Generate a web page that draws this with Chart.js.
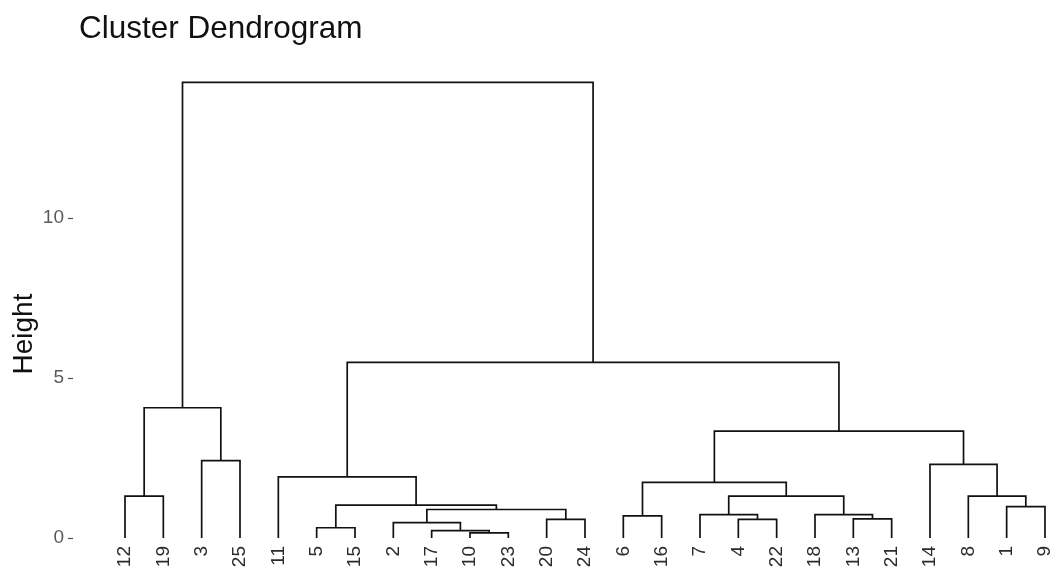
<!DOCTYPE html>
<html>
<head>
<meta charset="utf-8">
<style>
  html, body { margin: 0; padding: 0; background: #ffffff; }
  canvas { display: block; }
</style>
<script src="https://cdn.jsdelivr.net/npm/chart.js@4/dist/chart.umd.min.js"></script>
</head>
<body>
<canvas id="dend" width="1056" height="570"></canvas>
<script>
// Observation ids in left-to-right leaf order
const leafOrder = [12, 19, 3, 25, 11, 5, 15, 2, 17, 10, 23, 20, 24, 6, 16, 7, 4, 22, 18, 13, 21, 14, 8, 1, 9];

// Agglomeration steps (hclust convention): negative = single observation,
// positive = result of an earlier step (1-based)
const mergeLeft   = [-10, -17, -5, -2, -4, -20, -13, -6, -7, -18, 4, -1, 3, -12, 9, -8, 8, -11, -14, -3, 17, 14, 18, 22];
const mergeRight  = [-23, 1, -15, 2, -22, -24, -21, -16, 5, 7, 6, -9, 11, -19, 10, 12, 15, 13, 16, -25, 19, 20, 21, 23];
const mergeHeight = [0.16, 0.23, 0.32, 0.48, 0.58, 0.58, 0.60, 0.69, 0.73, 0.73, 0.89, 0.98, 1.03, 1.31, 1.31, 1.31, 1.74, 1.91, 2.30, 2.42, 3.34, 4.07, 5.49, 14.24];

// Height axis tick values
const yTickValues = [0, 5, 10];

const titleText = 'Cluster Dendrogram';
const yTitleText = 'Height';
const FONT = '"Liberation Sans", Arial, Helvetica, sans-serif';

// Leaf positions along x (1..n)
const leafPos = {};
leafOrder.forEach((id, i) => { leafPos[id] = i + 1; });

// Each merge becomes an upside-down "U": left leg, crossbar, right leg
const nodeX = [];
const nodeH = [];
function childOf(ref) {
  return ref < 0 ? [leafPos[-ref], 0] : [nodeX[ref - 1], nodeH[ref - 1]];
}
const datasets = mergeHeight.map((h, i) => {
  const [xl, hl] = childOf(mergeLeft[i]);
  const [xr, hr] = childOf(mergeRight[i]);
  nodeX[i] = (xl + xr) / 2;
  nodeH[i] = h;
  return {
    data: [{ x: xl, y: hl }, { x: xl, y: h }, { x: xr, y: h }, { x: xr, y: hr }],
    showLine: true,
    borderColor: '#111111',
    borderWidth: 1.7,
    borderJoinStyle: 'miter',
    borderCapStyle: 'butt',
    pointRadius: 0,
    pointHoverRadius: 0,
    tension: 0,
    fill: false,
    clip: false
  };
});

// Plot title and rotated y-axis title
const titlesPlugin = {
  id: 'dendTitles',
  afterDraw(chart) {
    const ctx = chart.ctx;
    ctx.save();
    ctx.fillStyle = '#111111';
    ctx.textBaseline = 'alphabetic';
    ctx.textAlign = 'left';
    ctx.font = '31.5px ' + FONT;
    ctx.fillText(titleText, 79, 38);
    ctx.translate(32, 334);
    ctx.rotate(-Math.PI / 2);
    ctx.textAlign = 'center';
    ctx.font = '28px ' + FONT;
    ctx.fillText(yTitleText, 0, 0);
    ctx.restore();
  }
};

new Chart(document.getElementById('dend'), {
  type: 'scatter',
  data: { datasets },
  plugins: [titlesPlugin],
  options: {
    responsive: false,
    devicePixelRatio: 1,
    animation: false,
    events: [],
    layout: { padding: { top: 66, right: 4, left: 0, bottom: 0 } },
    plugins: {
      legend: { display: false },
      tooltip: { enabled: false },
      title: { display: false }
    },
    scales: {
      x: {
        type: 'linear',
        min: -0.3565,
        max: 25.183,
        grid: { display: false },
        border: { display: false },
        afterBuildTicks(scale) {
          scale.ticks = leafOrder.map((_, i) => ({ value: i + 1 }));
        },
        afterFit(scale) {
          scale.height = 32;
          scale.paddingLeft = 0;
          scale.paddingRight = 0;
        },
        ticks: {
          autoSkip: false,
          minRotation: 90,
          maxRotation: 90,
          padding: 0,
          color: '#2b2b2b',
          font: { family: FONT, size: 19 },
          callback: (v) => String(leafOrder[Math.round(v) - 1])
        }
      },
      y: {
        type: 'linear',
        min: 0,
        max: 14.75,
        border: { display: false },
        grid: {
          drawOnChartArea: false,
          drawTicks: true,
          tickLength: 5,
          tickColor: '#555555',
          tickWidth: 1.2
        },
        afterBuildTicks(scale) {
          scale.ticks = yTickValues.map(v => ({ value: v }));
        },
        afterFit(scale) {
          scale.width = 73;
          scale.paddingTop = 0;
          scale.paddingBottom = 0;
        },
        ticks: {
          padding: 4,
          color: '#5a5a5a',
          font: { family: FONT, size: 19 }
        }
      }
    }
  }
});
</script>
</body>
</html>
